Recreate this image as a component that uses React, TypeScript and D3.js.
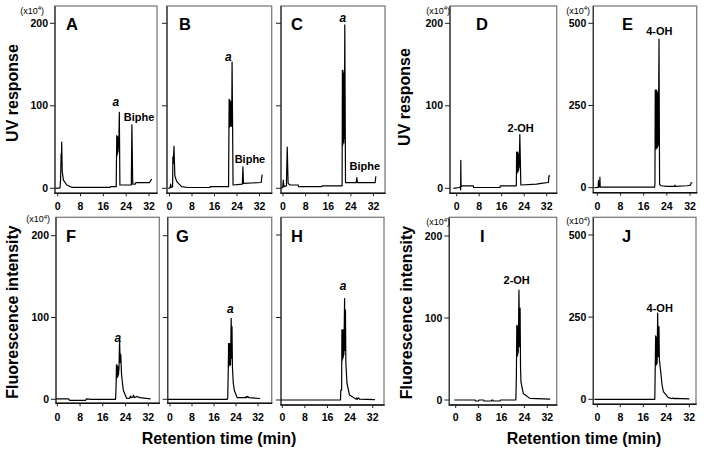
import React from "react";
import * as d3 from "d3";

type Pt = [number, number];

// ---------- data ----------
const xTicks = [0, 8, 16, 24, 32];
const yTicks200 = [0, 100, 200];
const yTicks500 = [0, 250, 500];

const traceA: Pt[] = [[-0.8,0],[0.8,0.5],[1.0,10],[1.2,42],[1.3,30],[1.4,56],[1.6,20],[2.0,10],[3.2,4],[4.9,1.2],[18.4,1.2],[18.5,2],[20.5,2],[20.7,64],[20.8,40],[20.9,63],[21.0,42],[21.1,62],[21.2,45],[21.3,60],[21.4,50],[21.6,92],[21.8,4],[25.8,4],[26.0,77],[26.3,5],[27.2,5],[27.4,7],[32.2,7],[32.7,10],[33.0,11]];
const traceB: Pt[] = [[-0.4,0],[0.2,0.5],[0.4,5],[0.6,1],[1.1,2],[1.2,38],[1.35,30],[1.6,51],[1.9,15],[2.6,8],[4.3,2],[6.5,1],[14.4,1],[14.5,2],[21.0,2],[21.2,108],[21.3,74],[21.4,107],[21.5,75],[21.6,106],[21.7,76],[21.8,105],[21.9,76],[22.0,100],[22.1,75],[22.25,153],[22.6,4],[25.9,5],[26.1,26],[26.3,6],[32.6,7],[32.9,16],[33.1,16]];
const traceC: Pt[] = [[-0.7,0],[-0.1,1],[0.1,10],[0.3,2],[1.2,3],[1.5,50],[1.8,6],[2.5,4],[5.4,4],[5.5,2],[13.7,2],[13.8,3],[20.9,3],[21.0,143],[21.1,52],[21.2,143],[21.3,55],[21.4,140],[21.5,55],[21.6,138],[21.7,60],[21.85,198],[22.1,7],[25.9,7],[26.1,13],[26.3,7],[32.6,7],[32.8,14],[33.0,14]];
const traceD: Pt[] = [[-1.2,0],[1.0,1],[1.3,2],[1.4,-2],[1.45,34],[1.55,2],[2.0,3],[5.9,3],[6.0,1],[15.4,1],[15.5,3],[21.2,3],[21.3,44],[21.4,18],[21.5,43],[21.6,20],[21.7,44],[21.8,20],[21.9,42],[22.0,22],[22.1,40],[22.2,25],[22.45,65],[22.8,4],[28.4,5],[30,6],[32.6,7],[32.8,15],[33.2,15]];
const traceE: Pt[] = [[-1.0,0],[0.3,1],[0.4,22],[0.5,2],[0.8,3],[0.9,32],[1.0,2],[2,2],[19.8,2],[19.9,12],[20.0,297],[20.1,121],[20.2,297],[20.3,118],[20.4,297],[20.5,120],[20.6,295],[20.7,122],[20.8,290],[20.9,125],[21.0,285],[21.1,130],[21.3,452],[21.5,10],[22,6],[24,4],[26.7,4],[26.8,8],[26.9,4],[31,6],[32.2,8],[32.4,15],[32.8,15]];
const traceF: Pt[] = [[-0.5,0.5],[4.0,0.5],[4.3,-1.2],[10,-1.2],[10.2,0.5],[12,0],[20.5,0],[20.7,20],[20.8,42],[20.9,26],[21.0,42],[21.1,27],[21.2,40],[21.3,28],[21.4,40],[21.5,30],[21.7,38],[21.9,73],[22.1,45],[22.3,55],[22.6,30],[23.2,11],[24.4,1],[25.5,1.5],[25.7,4],[25.9,2],[26.6,3],[26.8,5],[27.0,2],[28,3.5],[29,2],[32.8,0.5]];
const traceG: Pt[] = [[-0.8,0],[20.8,0],[21.0,2],[21.2,40],[21.3,68],[21.4,40],[21.5,68],[21.6,42],[21.7,68],[21.8,44],[21.9,66],[22.0,42],[22.25,99],[22.4,50],[22.55,89],[22.7,40],[23.0,20],[23.4,11],[24.4,2],[27.5,2],[27.7,3.5],[27.9,2],[28.3,3.5],[28.6,2],[32.8,1]];
const traceH: Pt[] = [[-0.5,0],[20.6,0],[20.7,12],[21.0,12],[21.1,85],[21.2,48],[21.3,85],[21.4,50],[21.5,85],[21.6,52],[21.7,82],[21.8,55],[22.05,123],[22.2,60],[22.35,109],[22.5,45],[22.9,20],[23.8,6],[26.2,1],[26.4,2.5],[26.6,1],[27.0,2.5],[27.3,1],[32.8,0.5]];
const traceI: Pt[] = [[-0.5,0],[6.8,0],[6.9,-1.2],[8.0,-1.2],[8.1,0],[9.8,0],[9.9,-1.2],[12.5,-1.2],[12.6,0],[13.0,0],[13.1,-1.2],[15.5,-1.2],[15.6,0],[21.0,0],[21.1,12],[21.2,30],[21.35,91],[21.45,53],[21.55,90],[21.65,55],[21.75,88],[21.85,58],[22.1,134],[22.3,65],[22.5,112],[22.65,40],[22.8,22],[23.6,8],[25.9,2],[33.0,1]];
const traceJ: Pt[] = [[-1.0,0],[20.0,0],[20.1,64],[20.3,193],[20.4,104],[20.5,190],[20.6,106],[20.7,188],[20.8,110],[21.0,262],[21.2,130],[21.45,221],[21.6,120],[22.0,89],[22.5,45],[23.0,23],[24.7,5],[26.0,2],[26.3,4],[26.6,2],[27.0,3],[32.0,1]];

type Lab = { t: number; v: number; text: string; italic?: boolean };
const labelsA: Lab[] = [{ t: 20.4, v: 99.8, text: "a", italic: true }, { t: 28.5, v: 82, text: "Biphe" }];
const labelsB: Lab[] = [{ t: 20.9, v: 154.7, text: "a", italic: true }, { t: 28.6, v: 31, text: "Biphe" }];
const labelsC: Lab[] = [{ t: 21.2, v: 202, text: "a", italic: true }, { t: 28.9, v: 22, text: "Biphe" }];
const labelsD: Lab[] = [{ t: 22.75, v: 68.6, text: "2-OH" }];
const labelsE: Lab[] = [{ t: 21.4, v: 464, text: "4-OH" }];
const labelsF: Lab[] = [{ t: 21.3, v: 69.7, text: "a", italic: true }];
const labelsG: Lab[] = [{ t: 21.9, v: 106, text: "a", italic: true }];
const labelsH: Lab[] = [{ t: 21.5, v: 133, text: "a", italic: true }];
const labelsI: Lab[] = [{ t: 21.3, v: 141.5, text: "2-OH" }];
const labelsJ: Lab[] = [{ t: 21.7, v: 265, text: "4-OH" }];

const panelLetters = ["A", "B", "C", "D", "E", "F", "G", "H", "I", "J"];
const yTitleTop = "UV response";
const yTitleBottom = "Fluorescence intensity";
const xTitle = "Retention time (min)";

// ---------- layout ----------
type Layout = {
  box: [number, number, number, number];
  xr: [number, number];
  yr: [number, number];
  ymax: number;
  yLabels: boolean;
  unit?: [number, number];
  letter: [number, number];
  xLabY: number;
};

const layouts: Layout[] = [
  { box: [55, 6, 157, 193.3], xr: [57.7, 149], yr: [188.3, 23.3], ymax: 200, yLabels: true, unit: [44, 13.5], letter: [66, 30], xLabY: 209.5 },
  { box: [167, 6, 271.7, 193.3], xr: [169.5, 259.5], yr: [188.3, 23.3], ymax: 200, yLabels: false, letter: [179, 30], xLabY: 209.5 },
  { box: [281, 6, 385, 193.3], xr: [283, 373.5], yr: [188.3, 23.3], ymax: 200, yLabels: false, letter: [291, 30], xLabY: 209.5 },
  { box: [450, 6, 556.7, 193.3], xr: [456.7, 546.7], yr: [188.3, 23.3], ymax: 200, yLabels: true, unit: [450, 13.5], letter: [476, 30], xLabY: 209.5 },
  { box: [593.3, 6, 696.7, 192.7], xr: [597.3, 690], yr: [187.7, 23.3], ymax: 500, yLabels: true, unit: [590, 13.5], letter: [622, 30], xLabY: 209.5 },
  { box: [56, 217.3, 159.3, 403.3], xr: [57.3, 148.3], yr: [399.3, 235.7], ymax: 200, yLabels: true, unit: [50, 222], letter: [66, 242], xLabY: 421 },
  { box: [167.7, 217.3, 271.7, 403.3], xr: [170, 258], yr: [399.3, 235.7], ymax: 200, yLabels: false, letter: [176, 242], xLabY: 421 },
  { box: [281, 217.3, 384, 405], xr: [282.3, 372.7], yr: [400, 235], ymax: 200, yLabels: false, letter: [291, 242], xLabY: 421 },
  { box: [449.3, 217.3, 556.7, 405], xr: [455.7, 547.3], yr: [400, 236], ymax: 200, yLabels: true, unit: [450, 225], letter: [480, 242], xLabY: 421 },
  { box: [593.3, 217.3, 696, 404.3], xr: [597.3, 689.3], yr: [399.3, 235], ymax: 500, yLabels: true, unit: [590, 224], letter: [622, 242], xLabY: 421 },
];

const traces = [traceA, traceB, traceC, traceD, traceE, traceF, traceG, traceH, traceI, traceJ];
const labels = [labelsA, labelsB, labelsC, labelsD, labelsE, labelsF, labelsG, labelsH, labelsI, labelsJ];

const FONT = "'Liberation Sans', Arial, Helvetica, sans-serif";

function Panel({ idx }: { idx: number }) {
  const L = layouts[idx];
  const [l, t, r, b] = L.box;
  const x = d3.scaleLinear().domain([0, 32]).range(L.xr);
  const y = d3.scaleLinear().domain([0, L.ymax]).range(L.yr);
  const yt = L.ymax === 500 ? yTicks500 : yTicks200;
  const line = d3.line<Pt>().x((d) => x(d[0])).y((d) => y(d[1]));
  return (
    <g>
      <rect x={l} y={t} width={r - l} height={b - t} fill="none" stroke="#7d7d7d" strokeWidth={1.3} />
      <line x1={l} x2={l} y1={t} y2={b} stroke="#3a3a3a" strokeWidth={1.3} />
      <line x1={l - 0.6} x2={r + 0.6} y1={b} y2={b} stroke="#111" strokeWidth={1.6} />
      {yt.map((v) => (
        <g key={"y" + v}>
          <line x1={l - 5} x2={l} y1={y(v)} y2={y(v)} stroke="#222" strokeWidth={1} />
          {L.yLabels && (
            <text x={l - 7} y={y(v) + 3.6} textAnchor="end" fontSize={10.5} fontWeight="bold" fontFamily={FONT}>
              {v}
            </text>
          )}
        </g>
      ))}
      {L.unit && (
        <text x={L.unit[0]} y={L.unit[1]} textAnchor="end" fontSize={9} fontFamily={FONT}>
          (x10<tspan dy={-3.5} fontSize={6}>4</tspan>
          <tspan dy={3.5}>)</tspan>
        </text>
      )}
      {xTicks.map((v) => (
        <g key={"x" + v}>
          <line x1={x(v)} x2={x(v)} y1={b} y2={b + 3} stroke="#222" strokeWidth={1} />
          <text x={x(v)} y={L.xLabY} textAnchor="middle" fontSize={10.5} fontWeight="bold" fontFamily={FONT}>
            {v}
          </text>
        </g>
      ))}
      <path d={line(traces[idx]) || ""} fill="none" stroke="#000" strokeWidth={1.2} strokeLinejoin="round" />
      {labels[idx].map((lb, i) => (
        <text
          key={i}
          x={x(lb.t)}
          y={y(lb.v)}
          textAnchor="middle"
          fontSize={lb.italic ? 12 : 11}
          fontWeight="bold"
          fontStyle={lb.italic ? "italic" : "normal"}
          fontFamily={FONT}
        >
          {lb.text}
        </text>
      ))}
      <text x={L.letter[0]} y={L.letter[1]} fontSize={16.5} fontWeight="bold" fontFamily={FONT}>
        {panelLetters[idx]}
      </text>
    </g>
  );
}

export default function App() {
  return (
    <svg
      width={704}
      height={453}
      style={{ position: "absolute", left: 0, top: 0, background: "#fff" }}
    >
      <rect x={0} y={0} width={704} height={453} fill="#fff" />
      {layouts.map((_, i) => (
        <Panel key={i} idx={i} />
      ))}
      <text transform="translate(17.5,93) rotate(-90)" textAnchor="middle" fontSize={16} fontWeight="bold" fontFamily={FONT}>
        {yTitleTop}
      </text>
      <text transform="translate(410,97) rotate(-90)" textAnchor="middle" fontSize={16} fontWeight="bold" fontFamily={FONT}>
        {yTitleTop}
      </text>
      <text transform="translate(18,312) rotate(-90)" textAnchor="middle" fontSize={16} fontWeight="bold" fontFamily={FONT}>
        {yTitleBottom}
      </text>
      <text transform="translate(411.5,312.5) rotate(-90)" textAnchor="middle" fontSize={16} fontWeight="bold" fontFamily={FONT}>
        {yTitleBottom}
      </text>
      <text x={219} y={444} textAnchor="middle" fontSize={16} fontWeight="bold" fontFamily={FONT}>
        {xTitle}
      </text>
      <text x={584} y={444} textAnchor="middle" fontSize={16} fontWeight="bold" fontFamily={FONT}>
        {xTitle}
      </text>
    </svg>
  );
}
